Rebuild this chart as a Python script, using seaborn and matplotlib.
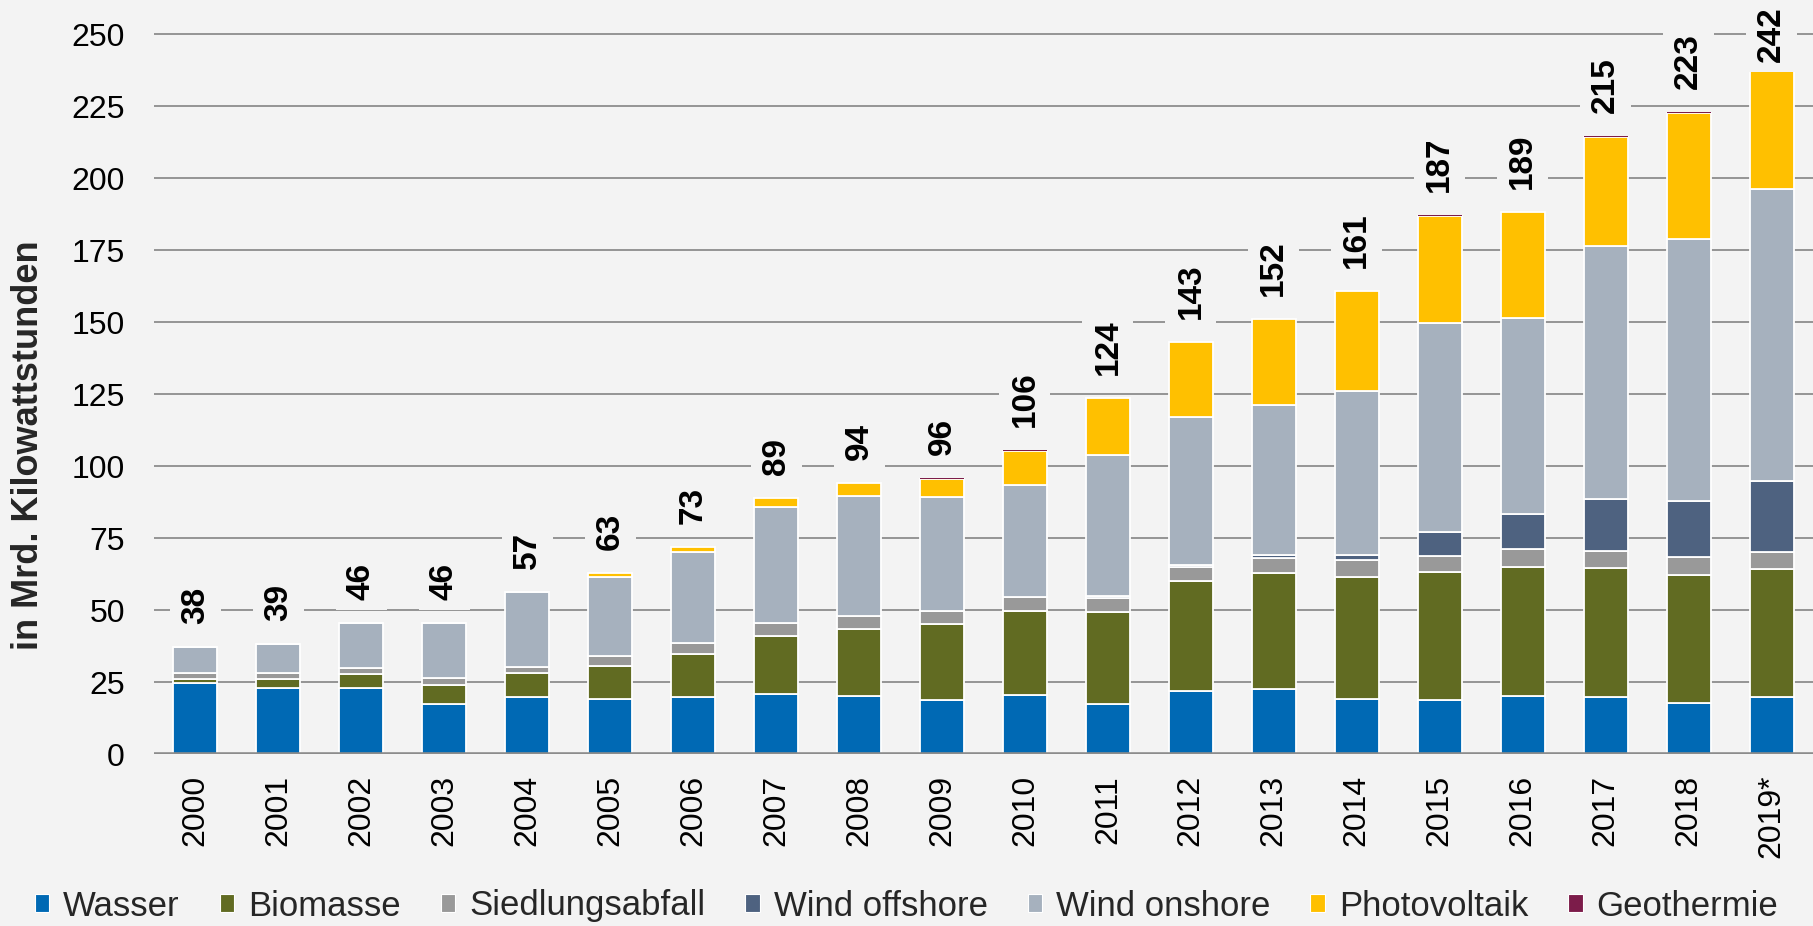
import numpy as np
import pandas as pd
import matplotlib
matplotlib.use("Agg")
import matplotlib.pyplot as plt
from matplotlib.patches import Patch
import seaborn as sns

years = ["2000", "2001", "2002", "2003", "2004", "2005", "2006", "2007", "2008", "2009",
         "2010", "2011", "2012", "2013", "2014", "2015", "2016", "2017", "2018", "2019*"]

wasser = [24.5, 22.8, 23.0, 17.2, 19.7, 19.2, 19.7, 20.7, 20.0, 18.8,
          20.5, 17.2, 21.9, 22.7, 19.1, 18.8, 20.3, 19.8, 17.6, 19.8]
biomasse = [1.5, 3.1, 4.8, 6.8, 8.3, 11.5, 14.9, 20.2, 23.4, 26.3,
            29.2, 32.0, 38.2, 40.0, 42.2, 44.3, 44.8, 44.9, 44.5, 44.4]
siedlungsabfall = [2.0, 2.1, 2.1, 2.3, 2.1, 3.3, 3.8, 4.5, 4.6, 4.4,
                   4.7, 4.9, 4.8, 5.4, 6.1, 5.8, 6.0, 5.9, 6.2, 5.8]
wind_offshore = [0.0, 0.0, 0.0, 0.0, 0.0, 0.0, 0.0, 0.0, 0.0, 0.0,
                 0.2, 0.6, 0.7, 0.9, 1.6, 8.2, 12.3, 17.8, 19.5, 24.8]
wind_onshore = [9.3, 10.2, 15.5, 19.1, 26.3, 27.6, 31.6, 40.5, 41.5, 39.6,
                38.8, 49.1, 51.3, 52.2, 57.0, 72.4, 67.9, 88.0, 91.1, 101.4]
photovoltaik = [0.0, 0.0, 0.0, 0.0, 0.0, 1.4, 2.0, 3.1, 4.5, 6.5,
                11.8, 19.7, 26.0, 29.8, 34.6, 37.3, 36.8, 37.9, 43.8, 41.3]
geothermie = [0.0, 0.0, 0.0, 0.0, 0.0, 0.0, 0.0, 0.0, 0.2, 0.2,
              0.2, 0.2, 0.2, 0.2, 0.2, 0.2, 0.2, 0.2, 0.2, 0.2]
total_labels = ["38", "39", "46", "46", "57", "63", "73", "89", "94", "96",
                "106", "124", "143", "152", "161", "187", "189", "215", "223", "242"]

series_names = ["Wasser", "Biomasse", "Siedlungsabfall", "Wind offshore",
                "Wind onshore", "Photovoltaik", "Geothermie"]
series_values = [wasser, biomasse, siedlungsabfall, wind_offshore,
                 wind_onshore, photovoltaik, geothermie]
colors = ["#0069B4", "#616B22", "#999999", "#4E6280", "#A6B1BE", "#FFC000", "#7C1C4A"]

sns.set_style("white")
plt.rcParams["font.family"] = ["Liberation Sans", "DejaVu Sans"]

BG = "#F3F3F3"
fig = plt.figure(figsize=(18.13, 9.26), dpi=100, facecolor=BG)
ax = fig.add_axes([154 / 1813, 1 - 754 / 926, 1 - 154 / 1813, (754 - 19.6) / 926])
ax.set_facecolor(BG)

bottom = np.zeros(len(years))
for name, vals, col in zip(series_names, series_values, colors):
    df = pd.DataFrame({"Jahr": years, "Wert": vals})
    lw = 0 if name == "Geothermie" else 1.3
    sns.barplot(data=df, x="Jahr", y="Wert", order=years, color=col, saturation=1,
                bottom=bottom.copy(), width=0.53, edgecolor="white", linewidth=lw,
                ax=ax, zorder=3)
    bottom += np.array(vals)

ax.set_xlim(-0.5, 19.5)
ax.set_ylim(0, 255)
ax.set_yticks(np.arange(0, 251, 25))
ax.yaxis.grid(True, color="#8C8C8C", linewidth=1.3)
ax.xaxis.grid(False)
ax.set_axisbelow(True)
ax.axhline(0, color="#8C8C8C", linewidth=2.6, zorder=4)
for s in ax.spines.values():
    s.set_visible(False)
ax.tick_params(axis="both", length=0, labelsize=23, colors="black")
ax.tick_params(axis="y", pad=21)
ax.tick_params(axis="x", pad=15)
plt.setp(ax.get_xticklabels(), rotation=90)
ax.set_xlabel("")
ax.set_ylabel("")

label_base = np.minimum(bottom + 8, 240.3)
for i, (yb, txt) in enumerate(zip(label_base, total_labels)):
    ax.text(i, yb, txt, rotation=90, ha="center", va="bottom", fontsize=24,
            fontweight="bold", color="black", zorder=5, clip_on=False,
            bbox=dict(boxstyle="square,pad=0.3", facecolor=BG, edgecolor="none"))

fig.text(29 / 1813, 1 - 445 / 926, "in Mrd. Kilowattstunden", rotation=90,
         ha="center", va="center", fontsize=26, fontweight="bold")

handles = [Patch(facecolor=c, edgecolor="white", linewidth=0.8) for c in colors]
fig.legend(handles, series_names, loc="center", bbox_to_anchor=(0.5, 1 - 906 / 926),
           ncol=7, frameon=False, fontsize=25, handlelength=0.42, handleheight=0.42,
           handletextpad=0.4, columnspacing=1.15, borderaxespad=0, borderpad=0)

fig.savefig("out.png", dpi=100, facecolor=BG)
